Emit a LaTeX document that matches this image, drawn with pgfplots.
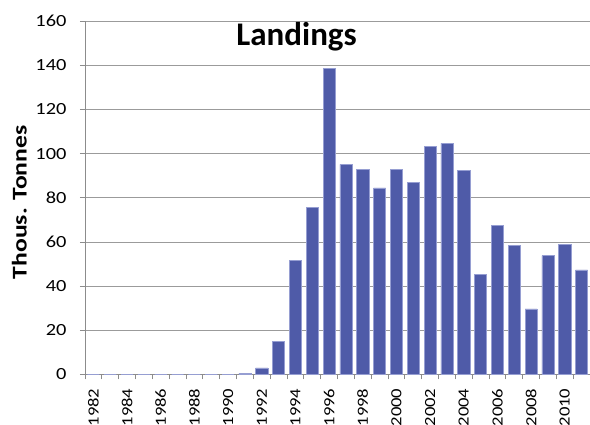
\documentclass[border=0pt]{standalone}
\usepackage{fontspec}
\setmainfont{Carlito}
\newfontfamily\widefont[FakeStretch=1.2]{Carlito}
\newfontfamily\widelabelfont[FakeStretch=1.22]{Carlito}
\usepackage{pgfplots}
\pgfplotsset{compat=1.18}
\definecolor{barblue}{RGB}{79,91,168}
\definecolor{baredge}{RGB}{150,158,210}
\definecolor{gridgray}{RGB}{155,155,155}
\definecolor{axgray}{RGB}{140,140,140}
\pgfplotstableread{
x year val
0 1982 0
1 1983 0
2 1984 0
3 1985 0
4 1986 0
5 1987 0
6 1988 0
7 1989 0
8 1990 0
9 1991 0.5
10 1992 3.0
11 1993 15.0
12 1994 51.7
13 1995 75.8
14 1996 138.6
15 1997 95.1
16 1998 93.0
17 1999 84.5
18 2000 93.0
19 2001 87.1
20 2002 103.4
21 2003 104.6
22 2004 92.4
23 2005 45.3
24 2006 67.5
25 2007 58.5
26 2008 29.7
27 2009 53.8
28 2010 59.0
29 2011 47.3
}\landings
\begin{document}
\begin{tikzpicture}
\useasboundingbox (-85pt,-50.5pt) rectangle (505pt,374.5pt);
\begin{axis}[
  at={(0,0)}, anchor=south west,
  scale only axis,
  width=505pt, height=353.5pt,
  xmin=-0.5, xmax=29.5,
  ymin=0, ymax=160,
  ytick={0,20,...,160},
  xtick={0,2,...,28},
  xticklabels={1982,1984,1986,1988,1990,1992,1994,1996,1998,2000,2002,2004,2006,2008,2010},
  minor xtick={-0.5,0.5,...,29.5},
  axis lines*=left,
  axis line style={axgray, line width=0.8pt},
  tick align=outside,
  major x tick style={draw=none},
  minor tick length=5pt,
  major tick length=5pt,
  tick style={axgray, line width=0.8pt},
  ymajorgrids,
  grid style={gridgray, line width=0.8pt},
  /pgf/number format/assume math mode=true,
  tick label style={font=\widefont\fontsize{17}{19}\selectfont, text=black},
  xticklabel style={rotate=90, anchor=east, inner sep=1pt, font=\widefont\fontsize{15.5}{17}\selectfont},
  xticklabel shift=8pt,
  yticklabel shift=10pt,
  ylabel={Thous. Tonnes},
  ylabel style={at={(axis description cs:-0.13,0.487)}, anchor=center, font=\widelabelfont\fontsize{21}{23}\selectfont\bfseries},
  clip=false,
]
\addplot[ybar, bar width=0.72, fill=barblue, draw=baredge, line width=0.5pt] table[x=x, y=val] {\landings};
\node[font=\fontsize{33}{36}\selectfont\bfseries] at (axis description cs:0.419,0.955) {Landings};
\end{axis}
\end{tikzpicture}
\end{document}
